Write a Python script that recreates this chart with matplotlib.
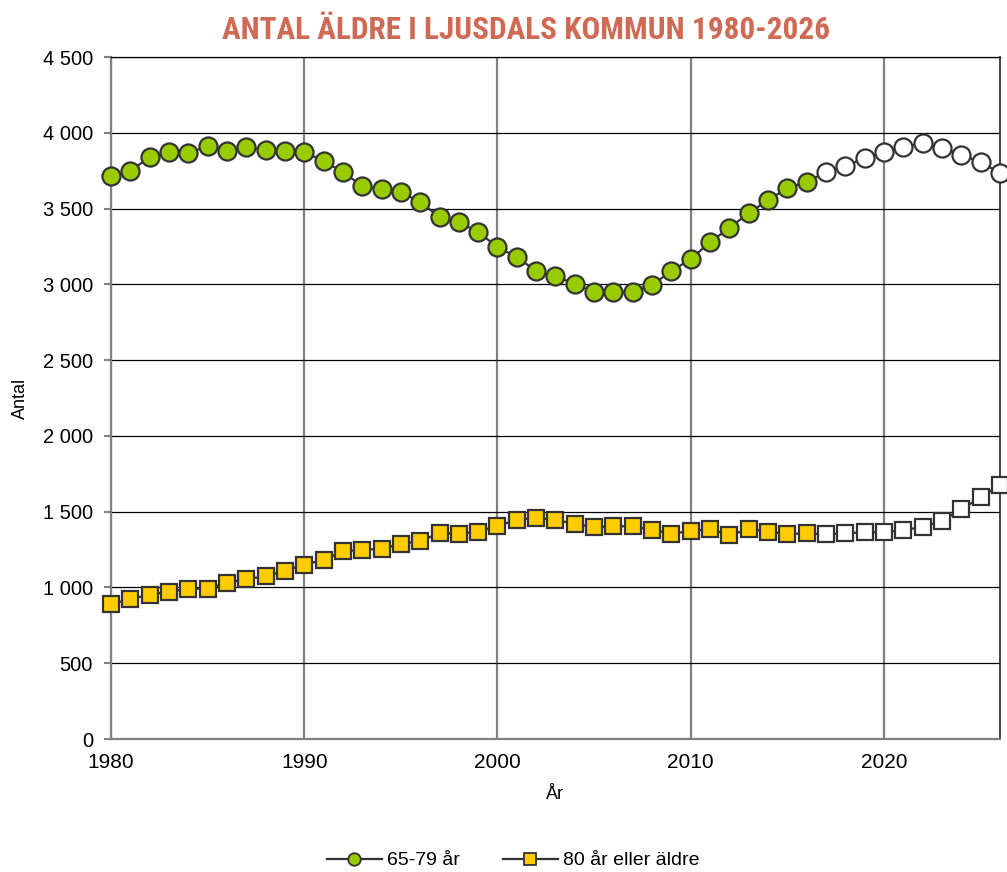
import matplotlib.pyplot as plt
from matplotlib.lines import Line2D
import numpy as np

plt.rcParams["font.family"] = ["Liberation Sans", "DejaVu Sans"]

years = list(range(1980, 2027))
first_forecast = 2017

age_65_79 = [3715, 3748, 3840, 3873, 3866, 3913, 3880, 3906, 3886, 3880,
             3873, 3814, 3741, 3649, 3629, 3609, 3543, 3444, 3411, 3345,
             3246, 3180, 3088, 3055, 3002, 2949, 2949, 2949, 2996, 3088,
             3167, 3279, 3372, 3470, 3556, 3635, 3675, 3741, 3781, 3833,
             3873, 3906, 3932, 3899, 3853, 3807, 3734]

age_80_plus = [889, 924, 952, 972, 992, 992, 1031, 1056, 1073, 1111,
               1150, 1183, 1238, 1249, 1254, 1287, 1306, 1359, 1355, 1368,
               1407, 1445, 1460, 1445, 1421, 1397, 1405, 1403, 1381, 1355,
               1372, 1386, 1344, 1386, 1368, 1353, 1357, 1351, 1357, 1364,
               1364, 1379, 1399, 1440, 1515, 1595, 1676]

labels = ["65-79 år", "80 år eller äldre"]
title = "ANTAL ÄLDRE I LJUSDALS KOMMUN 1980-2026"

GREEN = "#99CC00"
YELLOW = "#FFCC00"
EDGE = "#333333"

yrs = np.array(years)
hist = yrs < first_forecast
proj = ~hist

fig = plt.figure(figsize=(10.07, 8.72), dpi=100)
ax = fig.add_axes([0.1102, 0.1525, 0.8828, 0.7821])

for vals, marker, color, ms in [(age_65_79, "o", GREEN, 13),
                                 (age_80_plus, "s", YELLOW, 12)]:
    v = np.array(vals)
    ax.plot(yrs, v, color=EDGE, lw=1.6, zorder=3)
    ax.plot(yrs[hist], v[hist], ls="none", marker=marker, ms=ms,
            mfc=color, mec=EDGE, mew=1.6, zorder=4, clip_on=False)
    ax.plot(yrs[proj], v[proj], ls="none", marker=marker, ms=ms,
            mfc="white", mec=EDGE, mew=1.6, zorder=4, clip_on=False)

ax.set_xlim(1980, 2026)
ax.set_ylim(0, 4500)
ax.set_xticks([1980, 1990, 2000, 2010, 2020])
ax.set_yticks(np.arange(0, 4501, 500))
ax.set_yticklabels([f"{v:,}".replace(",", " ") for v in range(0, 4501, 500)])

ax.grid(axis="y", color="black", lw=0.9, zorder=1)
ax.grid(axis="x", color="#808080", lw=1.6, zorder=1)
ax.set_axisbelow(True)

for side in ["left", "bottom"]:
    ax.spines[side].set_color("#808080")
    ax.spines[side].set_linewidth(1.6)
ax.spines["top"].set_color("black")
ax.spines["top"].set_linewidth(0.9)
ax.spines["right"].set_color("#222222")
ax.spines["right"].set_linewidth(1.2)

ax.tick_params(axis="y", length=5, width=1.5, color="#808080", labelsize=14.5, pad=8)
ax.tick_params(axis="x", length=0, labelsize=15, pad=10)

ax.set_ylabel("Antal", fontsize=13, labelpad=10)
ax.set_xlabel("År", fontsize=13, labelpad=10)

fig.suptitle(title, x=0.522, y=0.983, fontsize=22.5, fontweight="bold",
             color="#CF6A55", fontstretch="condensed",
             family=["Liberation Sans Narrow", "DejaVu Sans Condensed",
                     "Roboto Condensed", "Liberation Sans"])

handles = [
    Line2D([], [], color=EDGE, lw=1.6, marker="o", ms=9, mfc=GREEN, mec=EDGE, mew=1.3),
    Line2D([], [], color=EDGE, lw=1.6, marker="s", ms=9, mfc=YELLOW, mec=EDGE, mew=1.3),
]
fig.legend(handles, labels, loc="center", bbox_to_anchor=(0.51, 0.013),
           ncol=2, frameon=False, fontsize=14, handlelength=2.8,
           columnspacing=2.2, handletextpad=0.3)

fig.savefig("out.png", dpi=100)
